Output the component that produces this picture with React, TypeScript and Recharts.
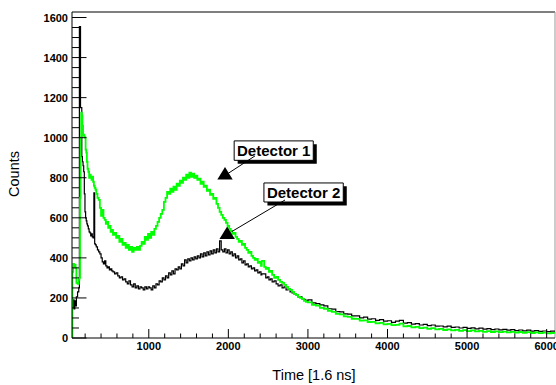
import React from 'react';
import { ComposedChart, Line, XAxis, YAxis, ReferenceLine, ReferenceArea, Scatter } from 'recharts';

const binStart = [35,40,50,60,70,80,90,105,120,128,
136,142,150,158,166,174,182,190,198,206,
214,222,230,240,250,260,270,280,290,300,
310,320,330,340,355,370,385,400,415,430,
445,460,475,490,505,520,535,550,570,590,
610,630,650,670,690,710,730,750,770,790,
810,830,850,870,890,910,930,950,970,990,
1010,1030,1050,1070,1090,1110,1130,1150,1170,1190,
1210,1230,1250,1270,1290,1310,1330,1350,1370,1390,
1410,1430,1450,1470,1490,1510,1530,1550,1570,1590,
1610,1630,1650,1670,1690,1710,1730,1750,1770,1790,
1810,1830,1850,1870,1890,1910,1930,1950,1970,1990,
2010,2030,2050,2070,2090,2110,2130,2150,2170,2190,
2210,2230,2250,2270,2290,2310,2330,2350,2370,2390,
2410,2420,2450,2470,2490,2510,2530,2550,2575,2600,
2625,2650,2675,2700,2725,2750,2775,2800,2825,2850,
2875,2900,2925,2950,2975,
3000,3050,3100,3150,3200,3250,3300,3350,3400,3450,
3500,3550,3600,3650,3700,3750,3800,3850,3900,3950,
4000,4050,4100,4150,4200,4250,4300,4350,4400,4450,
4500,4550,4600,4650,4700,4750,4800,4850,4900,4950,
5000,5050,5100,5150,5200,5250,5300,5350,5400,5450,
5500,5550,5600,5650,5700,5750,5800,5850,5900,5950,
6000,6050,6100];

const detector1 = [0,330,370,355,365,350,275,270,290,300,
700,1000,1125,1110,1060,1010,1015,1005,1000,940,
925,880,845,830,800,815,800,790,805,780,
760,750,740,720,700,690,650,610,640,600,
590,570,580,550,560,530,540,515,525,500,
510,480,495,465,475,450,465,440,455,430,
450,440,455,440,460,480,470,505,490,520,
500,530,515,545,560,580,600,620,640,680,
700,730,720,745,730,755,740,770,760,785,
775,800,790,815,800,825,805,820,800,810,
790,795,770,780,755,760,735,740,715,720,
695,700,670,650,630,615,600,590,575,560,
545,535,520,525,505,495,480,485,465,470,
450,440,425,430,410,400,390,395,375,380,
360,385,355,345,350,330,335,315,300,305,
290,280,275,265,255,245,240,230,220,215,
205,200,195,185,180,
178,165,162,150,146,136,130,120,118,108,
105,96,95,87,88,80,81,73,76,68,
71,64,66,72,58,60,53,56,49,52,
46,49,43,46,40,43,38,41,36,39,
34,38,33,36,31,34,30,33,29,32,
28,31,27,30,26,29,25,28,24,27,
23,25,22];

const detector2 = [0,150,190,145,185,160,205,230,250,1555,
1555,1150,1150,905,880,860,830,720,630,600,
585,570,560,545,530,525,510,520,505,500,
725,470,465,455,440,430,420,400,380,370,
385,360,350,355,340,345,335,330,320,325,
310,300,305,290,295,280,270,285,265,255,
270,250,260,245,255,250,240,255,245,255,
250,240,260,250,270,265,285,280,300,290,
310,300,325,315,335,320,345,340,355,345,
370,360,390,375,395,385,400,390,405,395,
410,400,420,405,425,410,430,415,435,420,
440,425,445,430,485,440,430,445,425,440,
420,430,410,420,400,410,390,395,375,385,
365,370,355,360,345,350,335,340,325,330,
315,320,320,300,305,290,295,280,285,270,
260,265,250,255,240,245,230,225,220,215,
205,205,195,190,185,
190,175,172,165,160,146,144,132,130,120,
119,110,110,100,104,94,96,88,92,84,
86,78,84,88,74,77,69,72,65,68,
62,65,59,60,56,59,53,55,50,53,
48,51,46,49,44,47,42,45,41,43,
39,42,37,40,36,39,34,37,33,35,
32,34,31];

const xMajorTicks = [1000, 2000, 3000, 4000, 5000, 6000];
const xTicks = [200,400,600,800,1000,1200,1400,1600,1800,2000,2200,2400,2600,2800,3000,
  3200,3400,3600,3800,4000,4200,4400,4600,4800,5000,5200,5400,5600,5800,6000];
const yMajorTicks = [0, 200, 400, 600, 800, 1000, 1200, 1400, 1600];
const yTicks = [0,50,100,150,200,250,300,350,400,450,500,550,600,650,700,750,800,850,900,
  950,1000,1050,1100,1150,1200,1250,1300,1350,1400,1450,1500,1550,1600];

const X_DOMAIN: [number, number] = [35, 6105];
const Y_DOMAIN: [number, number] = [0, 1627.5];

// annotation boxes (data coordinates)
const labels = ['Detector 1', 'Detector 2'];
const boxX = [[2073, 3067], [2447, 3444]];
const boxY = [[984, 887], [774, 679]];
const arrowFrom = [{ t: 2335, v: 909 }, { t: 2712, v: 689 }];
const arrowTo = [{ t: 1979, v: 817 }, { t: 2042, v: 531 }];
const markers = [{ t: 1958, v: 814 }, { t: 1985, v: 517 }];

const rows = binStart.map((t, i) => ({ t, d1: detector1[i], d2: detector2[i] }));

const FONT = '"Liberation Sans", Arial, Helvetica, sans-serif';

const XTick = (props: any) => {
  const { x, y, payload } = props;
  const major = xMajorTicks.includes(payload.value);
  return (
    <g>
      <line x1={x} x2={x} y1={y} y2={y - (major ? 9 : 4.5)} stroke="#000" strokeWidth={1} />
      {major && (
        <text x={x} y={y + 11.5} textAnchor="middle" fontSize={11} fontWeight="bold" fontFamily={FONT} fill="#000">
          {payload.value}
        </text>
      )}
    </g>
  );
};

const YTick = (props: any) => {
  const { x, y, payload } = props;
  const major = yMajorTicks.includes(payload.value);
  return (
    <g>
      <line x1={x} x2={x + (major ? 14.5 : 7)} y1={y} y2={y} stroke="#000" strokeWidth={1} />
      {major && (
        <text x={x - 4} y={y + 4} textAnchor="end" fontSize={11} fontWeight="bold" fontFamily={FONT} fill="#000">
          {payload.value}
        </text>
      )}
    </g>
  );
};

const Triangle = (props: any) => {
  const { cx, cy } = props;
  return <polygon points={`${cx},${cy - 8} ${cx + 7.7},${cy + 4.5} ${cx - 7.7},${cy + 4.5}`} fill="#000" />;
};

export default function App() {
  return (
    <div style={{ position: 'absolute', left: 0, top: 0, width: 556, height: 385, background: '#fff' }}>
      <ComposedChart width={556} height={385} data={rows} margin={{ top: 12, right: 1, left: 0, bottom: 0 }}>
        <XAxis
          dataKey="t"
          type="number"
          domain={X_DOMAIN}
          allowDataOverflow
          ticks={xTicks}
          interval={0}
          tick={<XTick />}
          tickLine={false}
          tickSize={0}
          tickMargin={0}
          height={47}
          axisLine={{ stroke: '#000', strokeWidth: 1 }}
          label={{
            content: () => (
              <text x={314} y={380} textAnchor="middle" fontSize={14.5} fontFamily={FONT} fill="#000">
                Time [1.6 ns]
              </text>
            ),
          }}
        />
        <YAxis
          type="number"
          domain={Y_DOMAIN}
          allowDataOverflow
          ticks={yTicks}
          interval={0}
          tick={<YTick />}
          tickLine={false}
          tickSize={0}
          tickMargin={0}
          width={72}
          axisLine={{ stroke: '#000', strokeWidth: 1 }}
          label={{
            content: () => (
              <text x={19} y={174} textAnchor="middle" fontSize={14.5} fontFamily={FONT} fill="#000" transform="rotate(-90 19 174)">
                Counts
              </text>
            ),
          }}
        />
        <ReferenceLine y={Y_DOMAIN[1]} stroke="#000" strokeWidth={1} ifOverflow="visible" />
        <ReferenceLine x={X_DOMAIN[1]} stroke="#999" strokeWidth={1} ifOverflow="visible" />
        <Line dataKey="d2" type="stepAfter" stroke="#000" strokeWidth={1.2} dot={false} activeDot={false} isAnimationActive={false} />
        <Line dataKey="d1" type="stepAfter" stroke="#00ff00" strokeWidth={1.8} dot={false} activeDot={false} isAnimationActive={false} />
        {labels.map((lab, i) => (
          <ReferenceLine
            key={'arr' + i}
            segment={[{ x: arrowFrom[i].t, y: arrowFrom[i].v }, { x: arrowTo[i].t, y: arrowTo[i].v }]}
            stroke="#000"
            strokeWidth={1}
            ifOverflow="visible"
          />
        ))}
        {labels.map((lab, i) => (
          <ReferenceArea
            key={'sh' + i}
            x1={boxX[i][0] + 44}
            x2={boxX[i][1] + 44}
            y1={boxY[i][0] - 17}
            y2={boxY[i][1] - 17}
            fill="#000"
            fillOpacity={1}
            stroke="none"
            ifOverflow="visible"
          />
        ))}
        {labels.map((lab, i) => (
          <ReferenceArea
            key={'box' + i}
            x1={boxX[i][0]}
            x2={boxX[i][1]}
            y1={boxY[i][0]}
            y2={boxY[i][1]}
            fill="#fff"
            fillOpacity={1}
            stroke="#000"
            strokeWidth={1}
            ifOverflow="visible"
            label={{ value: lab, position: 'center', fontSize: 15, fontWeight: 'bold', fill: '#000', fontFamily: FONT }}
          />
        ))}
        <Scatter data={markers} dataKey="v" shape={<Triangle />} isAnimationActive={false} />
      </ComposedChart>
    </div>
  );
}
